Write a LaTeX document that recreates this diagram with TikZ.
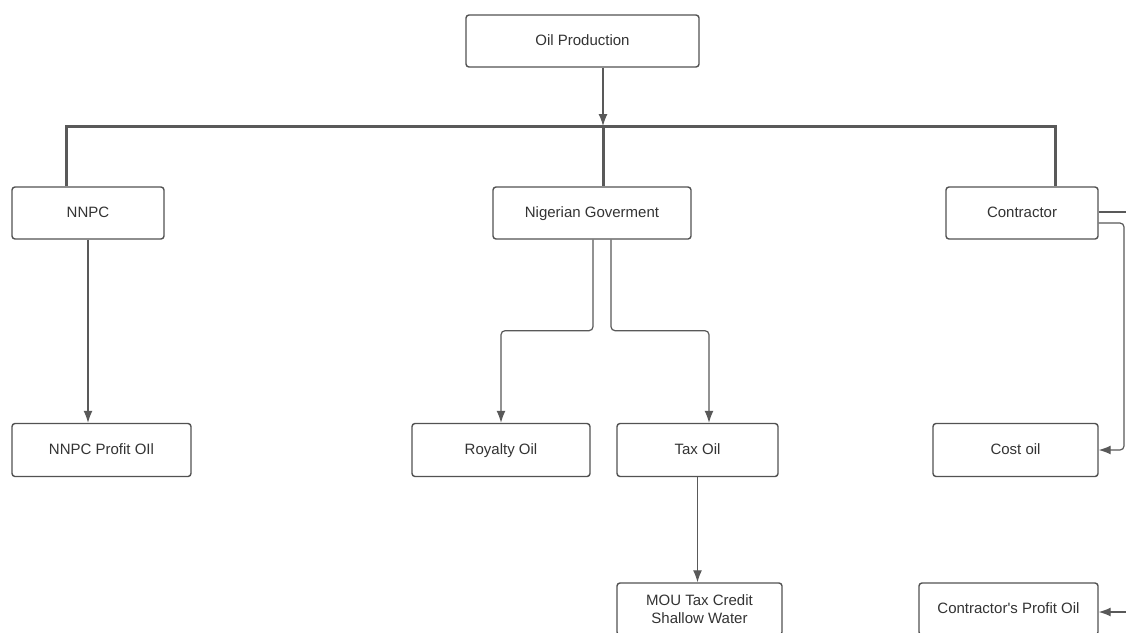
\documentclass[tikz,border=0pt]{standalone}
\usepackage{fontspec}
\setmainfont{Liberation Sans}
\usetikzlibrary{arrows.meta}

\tikzset{
        box/.style={draw=black!68, line width=1.4pt, rounded corners=3pt, fill=white, text=black!80, align=center, inner sep=2pt, text height=11pt, text depth=3pt},
        link/.style={draw=black!65, line width=1.2pt, rounded corners=4pt},
        bar/.style={draw=black!65, line width=3pt},
        tip/.style={-{Latex[length=12pt,width=9pt]}}
}

\begin{document}
\begin{tikzpicture}[x=1pt, y=-1pt, font=\fontsize{15}{18.5}\selectfont]
        \clip (0, 0) rectangle (1126, 632);
        \fill[white] (0, 0) rectangle (1126, 632);

        \node[box, minimum width=233pt, minimum height=52pt] (prod) at (582.5, 41) {Oil Production};

        \node[box, minimum width=152pt, minimum height=52pt] (nnpc) at (88, 213) {NNPC};
        \node[box, minimum width=198pt, minimum height=52pt] (gov) at (592, 213) {Nigerian Goverment};
        \node[box, minimum width=152pt, minimum height=52pt] (contr) at (1022, 213) {Contractor};

        \node[box, minimum width=179pt, minimum height=53pt] (nnpcprofit) at (101.5, 450) {NNPC Profit OIl};
        \node[box, minimum width=178pt, minimum height=53pt] (royalty) at (501, 450) {Royalty Oil};
        \node[box, minimum width=161pt, minimum height=53pt] (tax) at (697.5, 450) {Tax Oil};
        \node[box, minimum width=165pt, minimum height=53pt] (cost) at (1015.5, 450) {Cost oil};

        \node[box, minimum width=165pt, minimum height=52pt, text height=, text depth=] (mou) at (699.5, 609) {MOU Tax Credit\\Shallow Water};
        \node[box, minimum width=179pt, minimum height=52pt] (cprofit) at (1008.5, 609) {Contractor\textquotesingle s Profit Oil};

        \coordinate (hub) at (603, 126);
        \coordinate (barL) at (66, 126);
        \coordinate (barR) at (1055, 126);
        \coordinate (cout) at (1140, 212);
        \coordinate (cturn) at (1124, 223);
        \coordinate (cfeed) at (1140, 612);

        \draw[bar] (barL |- nnpc.north) -- (barL) -- (barR) -- (barR |- contr.north);
        \draw[bar] (hub) -- (hub |- gov.north);
        \draw[link, tip] (prod.south -| hub) -- (hub);

        \draw[link, tip] (nnpc.south) -- (nnpcprofit.north -| nnpc.south);

        \draw[link, tip] ([xshift=1pt]gov.south) -- ++(0, 91) -| (royalty.north);
        \draw[link, tip] ([xshift=19pt]gov.south) -- ++(0, 91) -| ([xshift=11.5pt]tax.north);
        \draw[link, tip] (tax.south) -- (mou.north -| tax.south);

        \draw[link] (contr.east |- cout) -- (cout);
        \draw[link, tip] (contr.east |- cturn) -- (cturn) |- (cost.east);
        \draw[link, tip] (cfeed) -- (cprofit.east |- cfeed);
\end{tikzpicture}
\end{document}
